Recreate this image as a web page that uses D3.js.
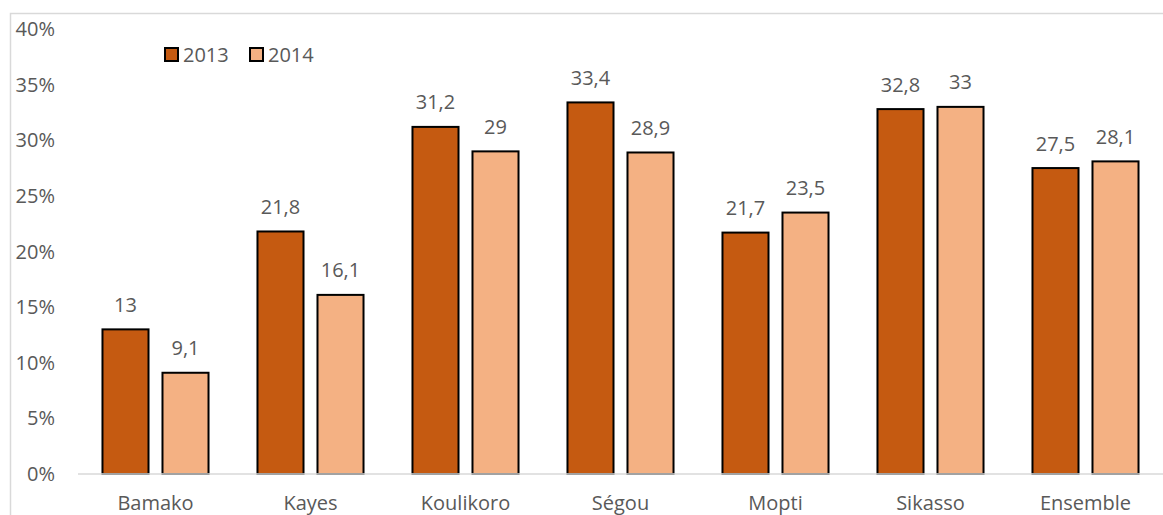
<!DOCTYPE html>
<html>
<head>
<meta charset="utf-8">
<script src="https://cdn.jsdelivr.net/npm/d3@7"></script>
<style>
  body { margin: 0; background: #fff; }
  svg text { font-family: "Open Sans", sans-serif; fill: #595959; }
</style>
</head>
<body>
<div id="chart"></div>
<script>
const regions = ["Bamako", "Kayes", "Koulikoro", "Ségou", "Mopti", "Sikasso", "Ensemble"];
const years = ["2013", "2014"];
const values2013 = [13, 21.8, 31.2, 33.4, 21.7, 32.8, 27.5];
const values2014 = [9.1, 16.1, 29, 28.9, 23.5, 33, 28.1];
const yTicks = [0, 5, 10, 15, 20, 25, 30, 35, 40];
const colors = { "2013": "#C55A11", "2014": "#F4B183" };

const width = 1163, height = 515;

const svg = d3.select("#chart").append("svg")
    .attr("width", width)
    .attr("height", height);

// cadre du graphique
svg.append("rect")
    .attr("x", 10.5).attr("y", 13.5)
    .attr("width", 1170).attr("height", 520)
    .attr("fill", "none")
    .attr("stroke", "#d9d9d9")
    .attr("stroke-width", 1.5);

const x0 = d3.scaleBand().domain(regions).range([78, 1163]);
const x1 = d3.scaleBand().domain(years).range([0, x0.bandwidth()])
    .paddingInner(0.233).paddingOuter(0.408);
const y = d3.scaleLinear().domain([0, 40]).range([474, 29]);

const data = regions.map((r, i) => ({
    region: r,
    vals: [{ year: "2013", v: values2013[i] }, { year: "2014", v: values2014[i] }]
}));

// axe Y (labels seulement)
svg.append("g")
    .selectAll("text")
    .data(yTicks)
    .join("text")
    .attr("x", 55)
    .attr("y", d => y(d))
    .attr("dy", "0.35em")
    .attr("text-anchor", "end")
    .attr("font-size", "20px")
    .text(d => d + "%");

const groups = svg.append("g")
    .selectAll("g")
    .data(data)
    .join("g")
    .attr("transform", d => `translate(${x0(d.region)},0)`);

groups.selectAll("rect")
    .data(d => d.vals)
    .join("rect")
    .attr("x", d => x1(d.year))
    .attr("y", d => y(d.v))
    .attr("width", x1.bandwidth())
    .attr("height", d => y(0) - y(d.v))
    .attr("fill", d => colors[d.year])
    .attr("stroke", "#000")
    .attr("stroke-width", 2);

groups.selectAll("text.val")
    .data(d => d.vals)
    .join("text")
    .attr("class", "val")
    .attr("x", d => x1(d.year) + x1.bandwidth() / 2)
    .attr("y", d => y(d.v) - 17.5)
    .attr("text-anchor", "middle")
    .attr("font-size", "20px")
    .text(d => String(d.v).replace(".", ","));

// axe X
svg.append("line")
    .attr("x1", 78).attr("x2", 1163)
    .attr("y1", y(0)).attr("y2", y(0))
    .attr("stroke", "#d9d9d9")
    .attr("stroke-width", 1.5);

svg.append("g")
    .selectAll("text")
    .data(regions)
    .join("text")
    .attr("x", d => x0(d) + x0.bandwidth() / 2)
    .attr("y", 510)
    .attr("text-anchor", "middle")
    .attr("font-size", "20px")
    .text(d => d);

// légende
const legend = svg.append("g")
    .selectAll("g")
    .data(years)
    .join("g")
    .attr("transform", (d, i) => `translate(${164 + i * 85},47)`);

legend.append("rect")
    .attr("x", 1).attr("y", 1)
    .attr("width", 13).attr("height", 13)
    .attr("fill", d => colors[d])
    .attr("stroke", "#000")
    .attr("stroke-width", 2);

legend.append("text")
    .attr("x", 19)
    .attr("y", 8)
    .attr("dy", "0.35em")
    .attr("font-size", "20px")
    .text(d => d);
</script>
</body>
</html>
